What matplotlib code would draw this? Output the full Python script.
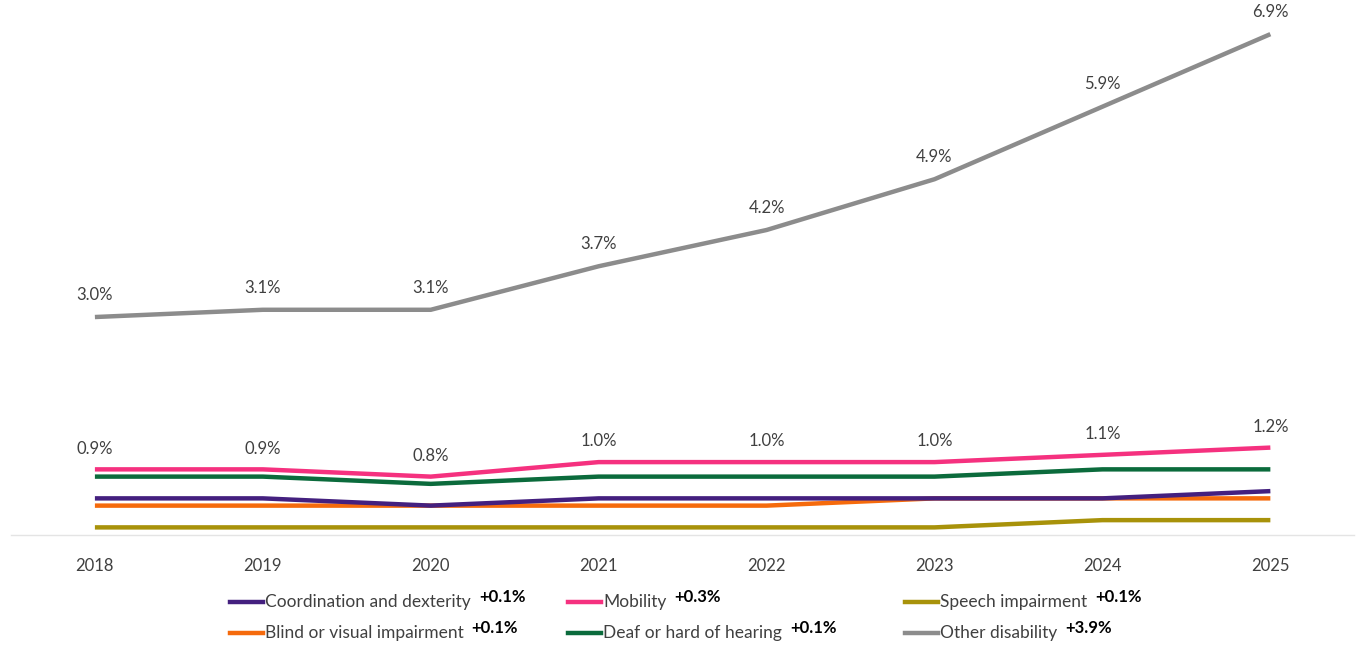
import matplotlib
matplotlib.use("Agg")
import matplotlib.pyplot as plt
from matplotlib.lines import Line2D

plt.rcParams['font.family'] = ['Lato', 'DejaVu Sans']

years = ['2018', '2019', '2020', '2021', '2022', '2023', '2024', '2025']

coordination = [0.5, 0.5, 0.4, 0.5, 0.5, 0.5, 0.5, 0.6]
mobility = [0.9, 0.9, 0.8, 1.0, 1.0, 1.0, 1.1, 1.2]
speech = [0.1, 0.1, 0.1, 0.1, 0.1, 0.1, 0.2, 0.2]
blind = [0.4, 0.4, 0.4, 0.4, 0.4, 0.5, 0.5, 0.5]
deaf = [0.8, 0.8, 0.7, 0.8, 0.8, 0.8, 0.9, 0.9]
other = [3.0, 3.1, 3.1, 3.7, 4.2, 4.9, 5.9, 6.9]

series_names = ['Coordination and dexterity', 'Mobility', 'Speech impairment',
                'Blind or visual impairment', 'Deaf or hard of hearing', 'Other disability']
series_values = [coordination, mobility, speech, blind, deaf, other]
changes = ['+0.1%', '+0.3%', '+0.1%', '+0.1%', '+0.1%', '+3.9%']
colors = ['#44207f', '#f5317f', '#a8920a', '#f56a0c', '#0b6b3c', '#8c8c8c']

fig = plt.figure(figsize=(13.68, 6.52), dpi=100)
ax = fig.add_axes([0.008, 0.180, 0.982, 0.801])

x = list(range(len(years)))
# draw in an order so pink/green sit over the others like the original
order = [4, 3, 0, 2, 1, 5]
for i in order:
    ax.plot(x, series_values[i], color=colors[i], lw=3.2, solid_capstyle='butt',
            solid_joinstyle='round', zorder=3)

# data labels for mobility and other disability
for xi, v in zip(x, mobility):
    ax.annotate(f'{v:.1f}%', (xi, v), xytext=(0, 15), textcoords='offset points',
                ha='center', va='center', fontsize=12, color='#404040')
for xi, v in zip(x, other):
    ax.annotate(f'{v:.1f}%', (xi, v), xytext=(0, 16), textcoords='offset points',
                ha='center', va='center', fontsize=12, color='#404040')

ax.set_xlim(-0.5, len(years) - 0.5)
ax.set_ylim(0, 7.2)
ax.set_xticks(x)
ax.set_xticklabels(years, fontsize=12, color='#404040')
ax.tick_params(axis='x', length=0, pad=17)
ax.set_yticks([])
for s in ['top', 'right', 'left']:
    ax.spines[s].set_visible(False)
ax.spines['bottom'].set_color('#e4e4e4')
ax.spines['bottom'].set_linewidth(1.0)

# manual legend, 3 columns x 2 rows
W, H = 1368, 652
col_x = [230, 568, 905]
row_y = [602, 633]
fig.canvas.draw()
renderer = fig.canvas.get_renderer()
for k, name in enumerate(series_names):
    r, c = divmod(k, 3)
    hx = col_x[c]
    yy = 1 - row_y[r] / H
    fig.add_artist(Line2D([hx / W, (hx + 33) / W], [yy, yy], color=colors[k], lw=3.2))
    t = fig.text((hx + 35) / W, yy, name, fontsize=12.5, color='#404040', va='center', ha='left')
    bb = t.get_window_extent(renderer)
    fig.text((bb.x1 + 8) / W, yy + 5 / H, changes[k], fontsize=12, fontweight='bold',
             color='black', va='center', ha='left')

fig.savefig('out.png', dpi=100, facecolor='white')
